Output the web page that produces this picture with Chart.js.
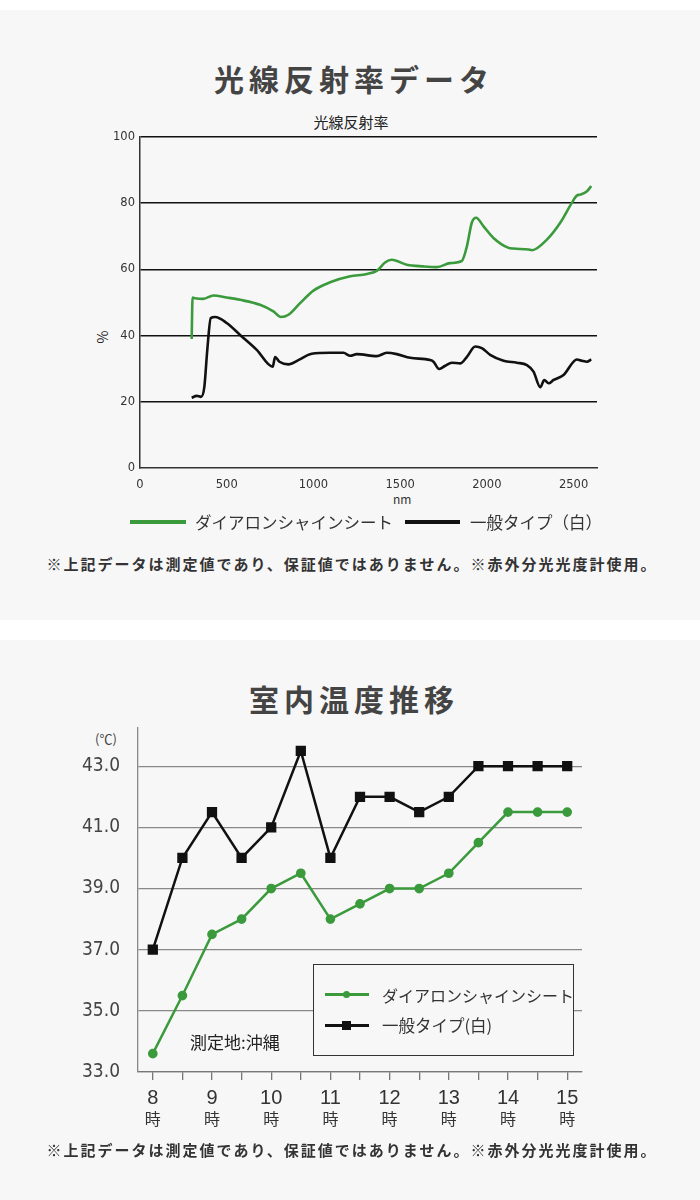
<!DOCTYPE html>
<html lang="ja">
<head>
  <meta charset="UTF-8">
  <title>光線反射率データ / 室内温度推移</title>
  <script src="https://cdn.jsdelivr.net/npm/chart.js"></script>
  <style>
    body {
      margin: 0;
      width: 700px;
      height: 1200px;
      background: #fff;
      font-family: 'Noto Sans CJK JP', sans-serif;
      color: #333;
      position: relative;
    }
    .panel {
      position: absolute;
      left: 0;
      width: 700px;
      background: #f7f7f7;
    }
    .abs { position: absolute; white-space: nowrap; }
    .heading {
      left: 0; width: 700px; text-align: center; box-sizing: border-box; padding-left: 8px;
      font-size: 30px; font-weight: bold; color: #444;
      letter-spacing: 5px; line-height: 36px;
    }
    .note {
      left: 0; width: 700px; text-align: center; box-sizing: border-box; padding-left: 4px;
      font-size: 15px; font-weight: bold; color: #333;
      letter-spacing: 2px; line-height: 18px;
    }
    .lgline { position: absolute; height: 4px; }
    .lgtext { font-size: 16.5px; color: #333; line-height: 20px; }
    .chartbox { position: absolute; left: 0; width: 700px; }
  </style>
</head>
<body>
  <div class="panel" style="top:10px; height:610px;"></div>
  <div class="panel" style="top:640px; height:560px;"></div>

  <!-- 光線反射率 -->
  <div class="abs heading" style="top:60px;">光線反射率データ</div>
  <div class="abs" style="left:0; width:702px; text-align:center; top:113px; font-size:15px; line-height:18px; color:#222;">光線反射率</div>
  <div class="abs" style="left:96px; top:327px; font-size:14px; transform:rotate(-90deg); color:#222;">%</div>
  <div class="abs" style="left:393px; top:490px; font-size:12px; color:#333;">nm</div>
  <div class="chartbox" style="top:130px; height:400px;"><canvas id="reflectChart" width="700" height="400"></canvas></div>

  <div class="lgline" style="left:130px; top:520px; width:56px; background:#3a9a3c;"></div>
  <div class="abs lgtext" style="left:195px; top:512px;">ダイアロンシャインシート</div>
  <div class="lgline" style="left:405px; top:520px; width:55px; background:#111;"></div>
  <div class="abs lgtext" style="left:470px; top:512px;">一般タイプ（白）</div>

  <div class="abs note" style="top:555px;">※上記データは測定値であり、保証値ではありません。※赤外分光光度計使用。</div>

  <!-- 室内温度推移 -->
  <div class="abs heading" style="top:680px;">室内温度推移</div>
  <div class="abs" style="left:95px; top:729px; font-size:13px; color:#444;">(℃)</div>
  <div class="chartbox" style="top:720px; height:440px;"><canvas id="tempChart" width="700" height="440"></canvas></div>

  <div class="abs" style="left:313px; top:964px; width:259px; height:90px; border:1.5px solid #333; background:#f7f7f7;"></div>
  <div class="lgline" style="left:325px; top:993px; width:44px; height:3px; background:#3a9a3c;"></div>
  <div class="abs" style="left:343px; top:991px; width:7px; height:7px; border-radius:50%; background:#3a9a3c;"></div>
  <div class="abs lgtext" style="left:382px; top:985px; font-size:16px;">ダイアロンシャインシート</div>
  <div class="lgline" style="left:325px; top:1024px; width:44px; height:3px; background:#111;"></div>
  <div class="abs" style="left:342px; top:1021px; width:9px; height:9px; background:#111;"></div>
  <div class="abs lgtext" style="left:382px; top:1015px; font-size:16.5px;">一般タイプ(白)</div>
  <div class="abs" style="left:190px; top:1029px; font-size:17px; color:#222;">測定地:沖縄</div>

  <div class="abs note" style="top:1141px;">※上記データは測定値であり、保証値ではありません。※赤外分光光度計使用。</div>

  <script>
    // ---- 光線反射率 data (nm / %) ----
    const shineNm  = [298, 303, 317, 365, 423, 500, 577, 692, 769, 812, 856, 923, 1000, 1096, 1212, 1308, 1369, 1413, 1452, 1538, 1635, 1712, 1788, 1856, 1885, 1913, 1938, 1981, 2038, 2125, 2154, 2240, 2260, 2346, 2423, 2490, 2519, 2538, 2577, 2602];
    const shinePct = [39.0, 51.5, 51.3, 51.1, 52.1, 51.5, 50.8, 49.3, 47.3, 45.6, 46.3, 49.8, 53.6, 56.1, 57.9, 58.6, 59.7, 62.1, 62.9, 61.4, 60.9, 60.7, 61.9, 62.6, 67.0, 74.1, 75.6, 73.0, 69.5, 66.5, 66.3, 66.0, 65.8, 69.0, 74.1, 80.1, 82.3, 82.6, 83.6, 85.2];
    const whiteNm  = [298, 327, 352, 371, 388, 408, 433, 500, 577, 673, 765, 779, 804, 856, 913, 990, 1096, 1173, 1212, 1250, 1365, 1423, 1481, 1558, 1673, 1692, 1725, 1760, 1798, 1846, 1885, 1933, 1971, 2019, 2096, 2173, 2231, 2269, 2308, 2331, 2356, 2385, 2442, 2519, 2548, 2577, 2602];
    const whitePct = [21.2, 21.8, 21.5, 24.5, 35.7, 45.3, 45.6, 43.8, 40.2, 35.7, 30.6, 33.5, 32.1, 31.3, 32.6, 34.5, 34.8, 34.8, 33.9, 34.4, 33.8, 34.8, 34.4, 33.3, 32.6, 32.1, 29.9, 30.9, 31.8, 31.6, 33.6, 36.7, 36.2, 34.2, 32.4, 31.8, 31.1, 29.1, 24.4, 26.6, 25.6, 26.6, 28.1, 32.8, 32.4, 32.1, 32.8];
    const reflXTicks = [0, 500, 1000, 1500, 2000, 2500];
    const reflYTicks = [0, 20, 40, 60, 80, 100];

    // ---- 室内温度推移 data (℃) ----
    const timeSlots = ['8:00', '8:30', '9:00', '9:30', '10:00', '10:30', '11:00', '11:30', '12:00', '12:30', '13:00', '13:30', '14:00', '14:30', '15:00'];
    const shineTemp = [33.6, 35.5, 37.5, 38.0, 39.0, 39.5, 38.0, 38.5, 39.0, 39.0, 39.5, 40.5, 41.5, 41.5, 41.5];
    const whiteTemp = [37.0, 40.0, 41.5, 40.0, 41.0, 43.5, 40.0, 42.0, 42.0, 41.5, 42.0, 43.0, 43.0, 43.0, 43.0];
    const tempYTicks = [33, 35, 37, 39, 41, 43];

    const GREEN = '#3a9a3c';
    const BLACK = '#111111';
    const NUM_FONT = "'DejaVu Sans', sans-serif";

    Chart.defaults.font.family = "'Noto Sans CJK JP', sans-serif";
    Chart.defaults.animation = false;

    function zip(xs, ys) {
      return xs.map((x, i) => ({ x: x, y: ys[i] }));
    }

    // 光線反射率 chart
    new Chart(document.getElementById('reflectChart'), {
      type: 'line',
      data: {
        datasets: [
          {
            label: 'ダイアロンシャインシート',
            data: zip(shineNm, shinePct),
            borderColor: GREEN,
            borderWidth: 2.6,
            pointRadius: 0,
            cubicInterpolationMode: 'monotone'
          },
          {
            label: '一般タイプ（白）',
            data: zip(whiteNm, whitePct),
            borderColor: BLACK,
            borderWidth: 2.6,
            pointRadius: 0,
            cubicInterpolationMode: 'monotone'
          }
        ]
      },
      options: {
        responsive: false,
        layout: { padding: { left: 0, right: 103, top: 7, bottom: 32 } },
        plugins: { legend: { display: false }, tooltip: { enabled: false } },
        scales: {
          x: {
            type: 'linear',
            min: 0,
            max: 2635,
            afterBuildTicks: s => { s.ticks = reflXTicks.map(v => ({ value: v })); },
            afterFit: s => { s.height = 30; s.paddingLeft = 0; s.paddingRight = 0; },
            grid: { display: false },
            border: { display: true, color: '#333', width: 1.5 },
            ticks: {
              color: '#333', font: { size: 11.5, family: NUM_FONT }, padding: 2, maxRotation: 0,
              callback: v => String(v)
            }
          },
          y: {
            min: 0,
            max: 100,
            afterBuildTicks: s => { s.ticks = reflYTicks.map(v => ({ value: v })); },
            afterFit: s => { s.width = 140; s.paddingTop = 0; s.paddingBottom = 0; },
            grid: {
              color: c => (c.tick && c.tick.value === 0 ? 'rgba(0,0,0,0)' : '#111'),
              lineWidth: 1.5,
              drawTicks: false
            },
            border: { display: true, color: '#333', width: 1.5 },
            ticks: { color: '#333', font: { size: 11.5, family: NUM_FONT }, padding: 5, callback: v => String(v) }
          }
        }
      }
    });

    // 室内温度推移 chart
    new Chart(document.getElementById('tempChart'), {
      type: 'line',
      data: {
        labels: timeSlots,
        datasets: [
          {
            label: 'ダイアロンシャインシート',
            data: shineTemp,
            borderColor: GREEN,
            backgroundColor: GREEN,
            borderWidth: 2.5,
            pointStyle: 'circle',
            pointRadius: 3.6,
            tension: 0
          },
          {
            label: '一般タイプ(白)',
            data: whiteTemp,
            borderColor: BLACK,
            backgroundColor: BLACK,
            borderWidth: 2.5,
            pointStyle: 'rect',
            pointRadius: 5.5,
            tension: 0
          }
        ]
      },
      options: {
        responsive: false,
        layout: { padding: { left: 0, right: 118, top: 8, bottom: 27 } },
        plugins: { legend: { display: false }, tooltip: { enabled: false } },
        scales: {
          x: {
            type: 'category',
            offset: true,
            weight: 0,
            afterFit: s => { s.height = 33; s.paddingLeft = 0; s.paddingRight = 0; },
            grid: { offset: false, drawOnChartArea: false, drawTicks: true, tickLength: 8, color: '#777', lineWidth: 1.3 },
            border: { display: true, color: '#777', width: 1.3 },
            ticks: {
              color: '#333',
              padding: 6,
              maxRotation: 0,
              autoSkip: false,
              font: { size: 20, family: "'Liberation Sans', Arial, sans-serif" },
              callback: (v, i) => (timeSlots[i].endsWith(':00') ? timeSlots[i].split(':')[0] : '')
            }
          },
          x2: {
            type: 'category',
            position: 'bottom',
            offset: true,
            weight: 1,
            afterFit: s => { s.height = 28; s.paddingLeft = 0; s.paddingRight = 0; },
            grid: { display: false },
            border: { display: false },
            ticks: {
              color: '#333',
              padding: -4,
              maxRotation: 0,
              autoSkip: false,
              font: { size: 16 },
              callback: (v, i) => (timeSlots[i].endsWith(':00') ? '時' : '')
            }
          },
          y: {
            min: 33,
            max: 44.25,
            afterBuildTicks: s => { s.ticks = tempYTicks.map(v => ({ value: v })); },
            afterFit: s => { s.width = 138; s.paddingTop = 0; s.paddingBottom = 0; },
            grid: { color: '#888', lineWidth: 1.3, drawTicks: false },
            border: { display: true, color: '#888', width: 1.3 },
            ticks: {
              color: '#444',
              padding: 18,
              font: { size: 19, family: "'Liberation Sans Narrow', 'DejaVu Sans Condensed', 'Liberation Sans', sans-serif" },
              callback: v => Number(v).toFixed(1)
            }
          }
        }
      }
    });
  </script>
</body>
</html>
